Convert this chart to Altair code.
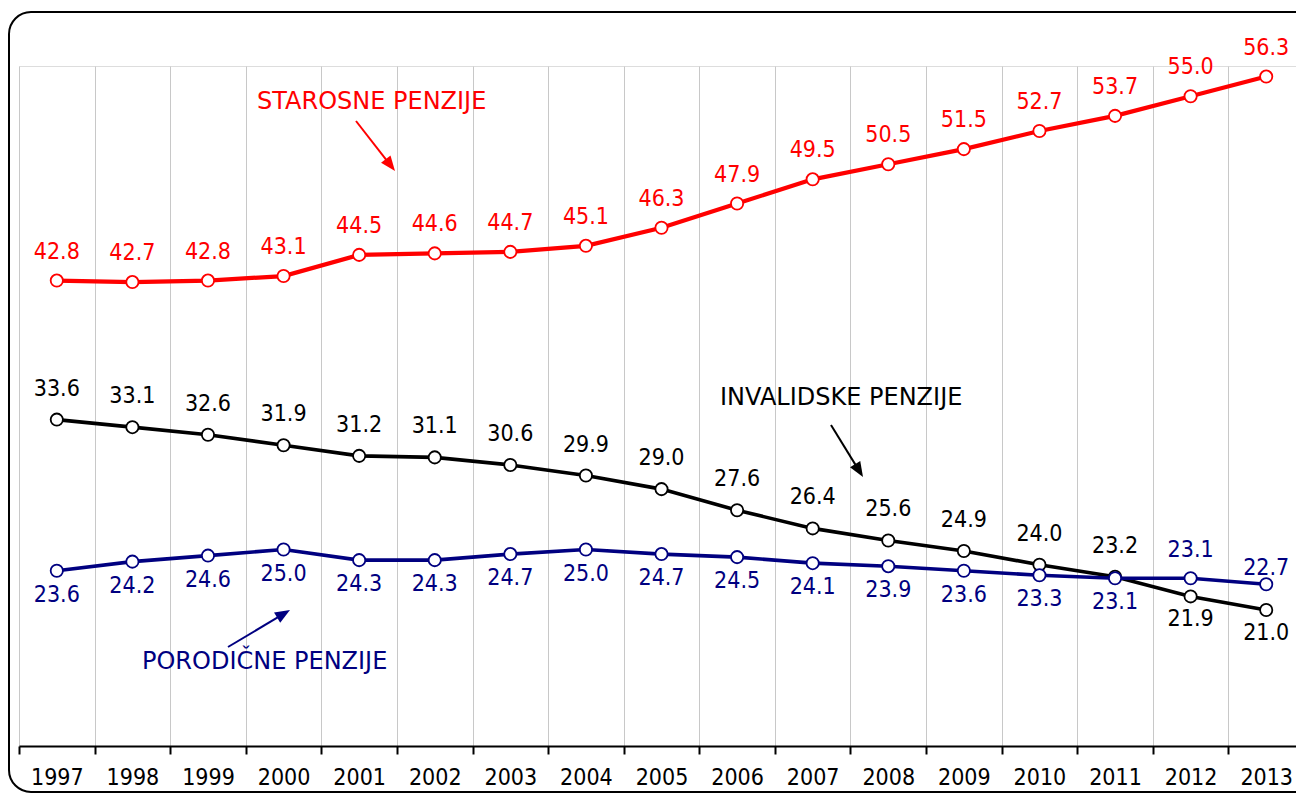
import math
import altair as alt
import pandas as pd

years = ["1997", "1998", "1999", "2000", "2001", "2002", "2003", "2004", "2005",
         "2006", "2007", "2008", "2009", "2010", "2011", "2012", "2013"]
starosne = [42.8, 42.7, 42.8, 43.1, 44.5, 44.6, 44.7, 45.1, 46.3, 47.9, 49.5,
            50.5, 51.5, 52.7, 53.7, 55.0, 56.3]
invalidske = [33.6, 33.1, 32.6, 31.9, 31.2, 31.1, 30.6, 29.9, 29.0, 27.6, 26.4,
              25.6, 24.9, 24.0, 23.2, 21.9, 21.0]
porodicne = [23.6, 24.2, 24.6, 25.0, 24.3, 24.3, 24.7, 25.0, 24.7, 24.5, 24.1,
             23.9, 23.6, 23.3, 23.1, 23.1, 22.7]
series_names = ["STAROSNE PENZIJE", "INVALIDSKE PENZIJE", "PORODIČNE PENZIJE"]
series_colors = ["#ff0000", "#000000", "#000080"]

rows = []
for name, vals in zip(series_names, [starosne, invalidske, porodicne]):
    for y, v in zip(years, vals):
        rows.append({"year": y, "value": v, "series": name, "yr": int(y)})
df = pd.DataFrame(rows)

NUMFONT = "DejaVu Sans Condensed, DejaVu Sans"
TXTFONT = "DejaVu Sans"
FS = 23
W, H = 1285, 680

x_enc = alt.X("year:O", scale=alt.Scale(type="band", paddingInner=0, paddingOuter=0),
              axis=alt.Axis(title=None, labelAngle=0, labelFontSize=FS, labelFont=NUMFONT,
                            labelColor="black", domainColor="black", domainWidth=2,
                            tickColor="black", tickWidth=2, tickSize=8, tickBand="extent",
                            grid=True, gridColor="#c8c8c8", gridWidth=1, labelPadding=12))
y_enc = alt.Y("value:Q", scale=alt.Scale(domain=[12, 57], nice=False, zero=False), axis=None)

base = alt.Chart(df).encode(x=x_enc, y=y_enc)

layers = []

# rounded frame (decoration)
frame = alt.Chart(pd.DataFrame({"a": [0]})).mark_rect(
    fillOpacity=0, stroke="black", strokeWidth=2, cornerRadius=22
).encode(x=alt.value(-10), x2=alt.value(1330), y=alt.value(-54), y2=alt.value(726))
layers.append(frame)

widths = {"STAROSNE PENZIJE": 4.2, "INVALIDSKE PENZIJE": 3.6, "PORODIČNE PENZIJE": 3.6}
for name, col in zip(series_names, series_colors):
    layers.append(base.transform_filter(alt.datum.series == name)
                  .mark_line(color=col, strokeWidth=widths[name]))
for name, col in zip(series_names, series_colors):
    layers.append(base.transform_filter(alt.datum.series == name)
                  .mark_point(shape="circle", filled=True, fill="white", stroke=col,
                              strokeWidth=1.8, size=150, opacity=1))

def labels(cond, col, dy):
    return base.transform_filter(cond).mark_text(
        font=NUMFONT, fontSize=FS, color=col, dy=dy, baseline="middle", align="center"
    ).encode(text=alt.Text("value:Q", format=".1f"))

layers.append(labels(alt.datum.series == series_names[0], series_colors[0], -29))
layers.append(labels((alt.datum.series == series_names[1]) & (alt.datum.yr <= 2011), series_colors[1], -31))
layers.append(labels((alt.datum.series == series_names[1]) & (alt.datum.yr >= 2012), series_colors[1], 23))
layers.append(labels((alt.datum.series == series_names[2]) & (alt.datum.yr <= 2011), series_colors[2], 24))
layers.append(labels((alt.datum.series == series_names[2]) & (alt.datum.yr == 2012), series_colors[2], -28))
layers.append(labels((alt.datum.series == series_names[2]) & (alt.datum.yr == 2013), series_colors[2], -16))

# annotations
one = pd.DataFrame({"a": [0]})
annots = [
    (series_names[0], series_colors[0], 238, 36, (337, 55, 376, 105)),
    (series_names[1], series_colors[1], 701, 332, (812, 359, 844, 411)),
    (series_names[2], series_colors[2], 123, 596, (209, 581, 271, 544)),
]
HEAD = "M0,-1L0.8,1L-0.8,1Z"
for text, col, tx, ty, (x0, y0, x1, y1) in annots:
    layers.append(alt.Chart(one).mark_text(
        text=text, font=TXTFONT, fontSize=24, color=col, align="left", baseline="middle"
    ).encode(x=alt.value(tx), y=alt.value(ty)))
    dx, dy = x1 - x0, y1 - y0
    L = math.hypot(dx, dy)
    ux, uy = dx / L, dy / L
    cx, cy = x1 - 7.5 * ux, y1 - 7.5 * uy
    ang = math.degrees(math.atan2(dx, -dy)) % 360
    layers.append(alt.Chart(one).mark_rule(color=col, strokeWidth=2).encode(
        x=alt.value(x0), y=alt.value(y0), x2=alt.value(cx), y2=alt.value(cy)))
    layers.append(alt.Chart(one).mark_point(
        shape=HEAD, filled=True, color=col, size=225, angle=ang, opacity=1
    ).encode(x=alt.value(cx), y=alt.value(cy)))

chart = alt.layer(*layers).properties(
    width=W, height=H,
    autosize=alt.AutoSizeParams(type="none"),
    padding={"left": 11, "top": 58, "right": -8, "bottom": 48},
).configure_view(stroke=None).configure(background="white")

chart.save("out.html", embed_options={"renderer": "svg", "actions": False})
